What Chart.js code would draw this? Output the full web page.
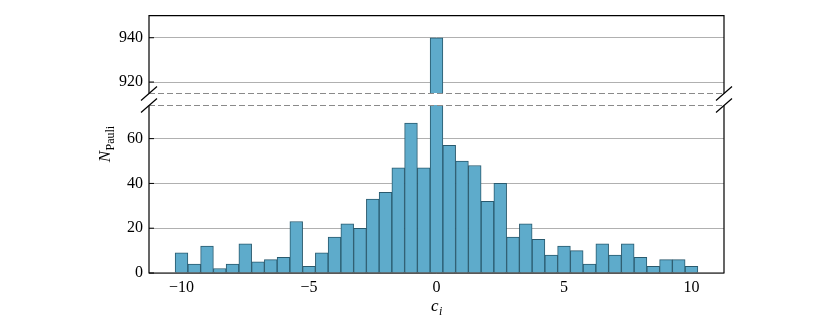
<!DOCTYPE html>
<html>
<head>
<meta charset="utf-8">
<script src="https://cdn.jsdelivr.net/npm/chart.js@4/dist/chart.umd.min.js"></script>
<style>
  body { margin: 0; background: #fff; }
</style>
</head>
<body>
<canvas id="hist" width="830" height="332"></canvas>
<script>
// bin centres of the histogram (c_i)
const binCenters = [-10, -9.5, -9, -8.5, -8, -7.5, -7, -6.5, -6, -5.5, -5, -4.5, -4, -3.5, -3, -2.5, -2, -1.5, -1, -0.5,
    0, 0.5, 1, 1.5, 2, 2.5, 3, 3.5, 4, 4.5, 5, 5.5, 6, 6.5, 7, 7.5, 8, 8.5, 9, 9.5, 10];
// counts per bin (N_Pauli)
const counts = [9, 4, 12, 2, 4, 13, 5, 6, 7, 23, 3, 9, 16, 22, 20, 33, 36, 47, 67, 47,
    940, 57, 50, 48, 32, 40, 16, 22, 15, 8, 12, 10, 4, 13, 8, 13, 7, 3, 6, 6, 3];

const xTicks = [-10, -5, 0, 5, 10];
const yTicksLow = [0, 20, 40, 60];
const yTicksHigh = [920, 940];
const lowRange = [0, 75];
const highRange = [915, 950];

const FONT = "'Liberation Serif', 'Times New Roman', serif";
const barFill = '#5eabcb';
const barEdge = '#295a6e';

const lowData = binCenters.map((c, i) => ({ x: c, y: counts[i] }));
const highData = binCenters.map((c, i) => ({ x: c, y: counts[i] > highRange[0] ? counts[i] : null }));

// clip each dataset to its own panel
const panelClip = {
    id: 'panelClip',
    beforeDatasetDraw(chart, args) {
        const ca = chart.chartArea;
        const top = chart.scales.yHigh;
        const ctx = chart.ctx;
        ctx.save();
        ctx.beginPath();
        if (args.index === 0) {
            ctx.rect(ca.left, top.bottom, ca.right - ca.left, ca.bottom - top.bottom);
        } else {
            ctx.rect(ca.left, ca.top, ca.right - ca.left, top.bottom - ca.top);
        }
        ctx.clip();
    },
    afterDatasetDraw(chart) {
        chart.ctx.restore();
    }
};

// spines, broken-axis marks, inward ticks and axis titles
const frame = {
    id: 'frame',
    afterDraw(chart) {
        const ctx = chart.ctx;
        const ca = chart.chartArea;
        const hi = chart.scales.yHigh, lo = chart.scales.y;
        const yb1 = Math.round(hi.bottom) + 0.5, yb2 = Math.round(lo.top) + 0.5;
        ctx.save();
        ctx.strokeStyle = '#000';
        ctx.lineWidth = 1.2;
        ctx.beginPath();
        ctx.moveTo(ca.left, yb1); ctx.lineTo(ca.left, ca.top); ctx.lineTo(ca.right, ca.top); ctx.lineTo(ca.right, yb1);
        ctx.moveTo(ca.left, yb2); ctx.lineTo(ca.left, ca.bottom); ctx.lineTo(ca.right, ca.bottom); ctx.lineTo(ca.right, yb2);
        ctx.stroke();

        // inward y ticks
        ctx.lineWidth = 1;
        ctx.beginPath();
        yTicksHigh.forEach(v => { const p = hi.getPixelForValue(v); ctx.moveTo(ca.left, p); ctx.lineTo(ca.left + 5, p); });
        yTicksLow.forEach(v => { const p = lo.getPixelForValue(v); ctx.moveTo(ca.left, p); ctx.lineTo(ca.left + 5, p); });
        ctx.stroke();

        // dashed break lines
        ctx.strokeStyle = '#8a8a8a';
        ctx.setLineDash([6, 3]);
        ctx.beginPath();
        ctx.moveTo(ca.left, yb1); ctx.lineTo(ca.right, yb1);
        ctx.moveTo(ca.left, yb2); ctx.lineTo(ca.right, yb2);
        ctx.stroke();
        ctx.setLineDash([]);

        // diagonal break marks
        ctx.strokeStyle = '#000';
        ctx.lineWidth = 1.2;
        ctx.beginPath();
        [ca.left, ca.right].forEach(x => {
            [yb1, yb2].forEach(y => { ctx.moveTo(x - 8, y + 7); ctx.lineTo(x + 8, y - 7); });
        });
        ctx.stroke();

        // x title: c_i
        ctx.fillStyle = '#000';
        ctx.textBaseline = 'alphabetic';
        const mainF = 'italic 17px ' + FONT, subF = 'italic 12px ' + FONT;
        ctx.font = mainF; const wc = ctx.measureText('c').width;
        ctx.font = subF; const wi = ctx.measureText('i').width;
        const cx = (ca.left + ca.right) / 2 - (wc + wi) / 2;
        ctx.font = mainF; ctx.fillText('c', cx, 311);
        ctx.font = subF; ctx.fillText('i', cx + wc + 0.5, 315);

        // y title: N_Pauli
        const nF = 'italic 17px ' + FONT, pF = '12px ' + FONT;
        ctx.font = nF; const wn = ctx.measureText('N').width;
        ctx.font = pF; const wp = ctx.measureText('Pauli').width;
        ctx.translate(110, (ca.top + ca.bottom) / 2);
        ctx.rotate(-Math.PI / 2);
        const sx = -(wn + wp) / 2;
        ctx.font = nF; ctx.fillText('N', sx, 0);
        ctx.font = pF; ctx.fillText('Pauli', sx + wn + 0.5, 4);
        ctx.restore();
    }
};

const tickFont = { family: FONT, size: 16 };

new Chart(document.getElementById('hist'), {
    type: 'bar',
    data: {
        datasets: [
            { data: lowData, yAxisID: 'y', backgroundColor: barFill, borderColor: barEdge, borderWidth: 1,
              barPercentage: 1, categoryPercentage: 1, grouped: false },
            { data: highData, yAxisID: 'yHigh', backgroundColor: barFill, borderColor: barEdge, borderWidth: 1,
              barPercentage: 1, categoryPercentage: 1, grouped: false }
        ]
    },
    options: {
        responsive: false,
        animation: false,
        layout: { padding: { top: 14, right: 106, left: 0, bottom: 0 } },
        plugins: { legend: { display: false }, tooltip: { enabled: false } },
        scales: {
            x: {
                type: 'linear',
                offset: false,
                min: -11.275,
                max: 11.275,
                grid: { display: false, drawTicks: false, offset: false },
                border: { display: false },
                afterBuildTicks: s => { s.ticks = xTicks.map(v => ({ value: v })); },
                afterFit: s => { s.height = 59; },
                ticks: {
                    font: tickFont, color: '#000', padding: 5, maxRotation: 0,
                    callback: v => v < 0 ? '\u2212' + Math.abs(v) : String(v)
                }
            },
            y: {
                position: 'left', stack: 'panels', stackWeight: 169,
                min: lowRange[0], max: lowRange[1],
                grid: { color: '#b0b0b0', lineWidth: 1, drawTicks: false },
                border: { display: false },
                afterBuildTicks: s => { s.ticks = yTicksLow.map(v => ({ value: v })); },
                afterFit: s => { s.width = 149; },
                ticks: { font: tickFont, color: '#000', padding: 6 }
            },
            yGap: {
                position: 'left', stack: 'panels', stackWeight: 12,
                min: 0, max: 1,
                grid: { display: false, drawTicks: false },
                border: { display: false },
                afterFit: s => { s.width = 149; },
                ticks: { display: false }
            },
            yHigh: {
                position: 'left', stack: 'panels', stackWeight: 78,
                min: highRange[0], max: highRange[1],
                grid: { color: '#b0b0b0', lineWidth: 1, drawTicks: false },
                border: { display: false },
                afterBuildTicks: s => { s.ticks = yTicksHigh.map(v => ({ value: v })); },
                afterFit: s => { s.width = 149; },
                ticks: { font: tickFont, color: '#000', padding: 6 }
            }
        }
    },
    plugins: [panelClip, frame]
});
</script>
</body>
</html>
